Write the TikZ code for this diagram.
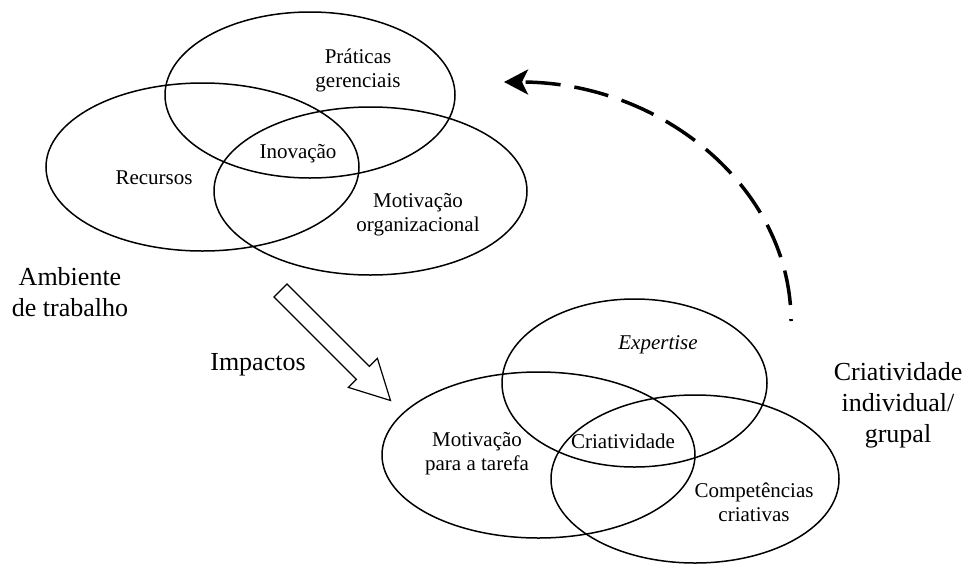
\documentclass[tikz,border=0pt]{standalone}
\usepackage{fontspec}
\setmainfont{Liberation Serif}
\usetikzlibrary{shapes.geometric,arrows.meta}
\begin{document}
\begin{tikzpicture}[x=1pt,y=-1pt,
  venn/.style={draw, ellipse, line width=1.5pt, inner sep=0pt},
  lbl/.style={font=\fontsize{21}{24}\selectfont, align=center, inner sep=0pt},
  big/.style={font=\fontsize{26}{31}\selectfont, align=center, inner sep=0pt},
  hollow/.style={draw, line width=1.2pt, fill=white, line join=miter},
  feedback/.style={line width=3.5pt, dash pattern=on 35pt off 14pt, dash phase=33pt,
    -{Stealth[length=24pt, width=25pt, inset=6pt]}}]
\useasboundingbox (0,0) rectangle (969,563);

% Work environment circles
\node[venn, minimum width=290pt, minimum height=166pt] (praticas) at (310,95) {};
\node[venn, minimum width=313pt, minimum height=168pt] (recursos) at (202.5,167) {};
\node[venn, minimum width=313pt, minimum height=168pt] (motorg) at (370.5,191) {};

\node[lbl] (tpraticas) at (358,70) {Práticas\\gerenciais};
\node[lbl] (tinovacao) at (298,154) {Inovação};
\node[lbl] (trecursos) at (154,178) {Recursos};
\node[lbl] (tmotorg) at (418,215) {Motivação\\organizacional};

% Individual / group creativity circles
\node[venn, minimum width=265pt, minimum height=168pt] (expertise) at (634.5,383) {};
\node[venn, minimum width=313pt, minimum height=166pt] (mottarefa) at (538.5,455) {};
\node[venn, minimum width=288pt, minimum height=168pt] (competencias) at (695,479) {};

\node[lbl, font=\fontsize{21}{24}\selectfont\itshape] (texpertise) at (658,345) {Expertise};
\node[lbl] (tcriatividade) at (623,441) {Criatividade};
\node[lbl] (tmottarefa) at (477,454) {Motivação\\para a tarefa};
\node[lbl] (tcompetencias) at (754,502) {Competências\\criativas};

% Group captions
\node[big] (ambiente) at (70,292) {Ambiente\\de trabalho};
\node[big] (impactos) at (258,365) {Impactos};
\node[big] (criatividade) at (898,405) {Criatividade\\individual/\\grupal};

% Hollow arrow: impacts of the environment
\draw[hollow] (287,284) -- (274,297) -- (356.4,379.4) -- (348.4,387.4)
  -- (390.5,400.5) -- (377.4,358.4) -- (369.4,366.4) -- cycle;

% Dashed feedback arc
\coordinate (fbstart) at (791,321);
\draw[feedback] (fbstart) arc[start angle=0, end angle=-90, x radius=287, y radius=239];
\end{tikzpicture}
\end{document}
